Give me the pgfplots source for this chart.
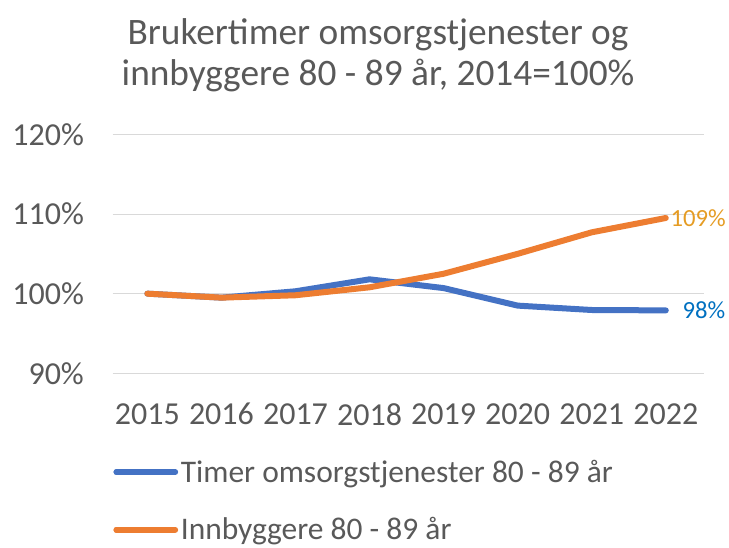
\documentclass[border=0pt]{standalone}
\usepackage{fontspec}
\setmainfont{Carlito}
\usepackage{pgfplots}
\pgfplotsset{compat=1.18}
\definecolor{txt}{HTML}{595959}
\definecolor{cblue}{HTML}{4472C4}
\definecolor{corange}{HTML}{ED7D31}
\definecolor{lblue}{HTML}{0070C0}
\definecolor{lgold}{HTML}{E59C24}
\definecolor{gridc}{HTML}{D9D9D9}
\begin{document}
\begin{tikzpicture}[x=0.75pt,y=0.75pt]
\path[use as bounding box] (0,0) rectangle (729,547);
\node[txt,font=\fontsize{28pt}{33pt}\selectfont] at (378,547-35) {Brukertimer omsorgstjenester og};
\node[txt,font=\fontsize{28pt}{33pt}\selectfont] at (378,547-75) {innbyggere 80 - 89 år, 2014=100\%};
\begin{axis}[
  at={(152,218)}, anchor=south west,
  width=443.25pt, height=179.25pt, scale only axis,
  xmin=-0.47, xmax=7.51, ymin=90, ymax=120,
  xtick={0,...,7}, xticklabels={2015,2016,2017,2018,2019,2020,2021,2022},
  ytick={90,100,110,120},
  yticklabel={\pgfmathprintnumber{\tick}\%},
  /pgf/number format/assume math mode=true,
  axis line style={draw=none},
  major tick length=0pt,
  ymajorgrids, grid style={gridc, line width=0.75pt},
  tick label style={txt, font=\fontsize{24pt}{29pt}\selectfont},
  yticklabel style={xshift=-18pt},
  xticklabel style={yshift=-19pt},
  clip=false,
  legend style={at={(0,-0.339)}, anchor=north west, draw=none, fill=none,
    font=\fontsize{23.6pt}{28pt}\selectfont, text=txt,
    row sep=21pt, xshift=-2.5pt},
  legend cell align=left,
  legend image code/.code={\path (0pt,0pt) -- (44pt,0pt);\draw[#1] (0pt,0pt) -- (38pt,0pt);},
  every axis plot/.append style={line width=4.5pt, line cap=round, line join=round},
]
\addplot[cblue] coordinates {(0,100) (1,99.5) (2,100.3) (3,101.8) (4,100.7) (5,98.5) (6,97.95) (7,97.9)}
  node[pos=1, anchor=west, text=lblue, font=\fontsize{18.5pt}{22pt}\selectfont, xshift=7pt] {98\%};
\addplot[corange] coordinates {(0,100) (1,99.5) (2,99.8) (3,100.8) (4,102.5) (5,105.0) (6,107.7) (7,109.5)}
  node[pos=1, anchor=west, text=lgold, font=\fontsize{18.5pt}{22pt}\selectfont, xshift=-2pt] {109\%};
\legend{Timer omsorgstjenester 80 - 89 år, Innbyggere 80 - 89 år}
\end{axis}
\end{tikzpicture}
\end{document}
